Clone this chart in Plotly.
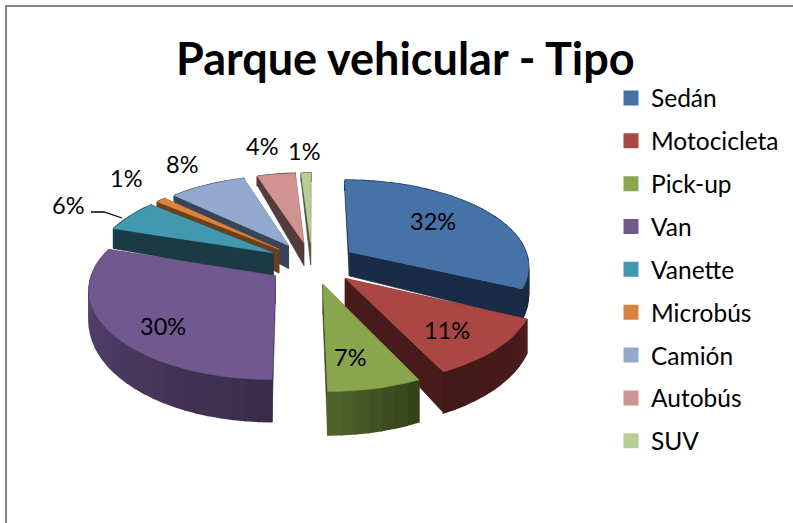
import math
import plotly.graph_objects as go

categories = ["Sedán", "Motocicleta", "Pick-up", "Van", "Vanette", "Microbús", "Camión", "Autobús", "SUV"]
values = [32, 11, 7, 30, 6, 1, 8, 4, 1]
top_colors = ["#4572A7", "#AA4643", "#89A54E", "#71588F", "#4198AF", "#DB843D", "#93A9CF", "#D19392", "#B9CD96"]
wall_colors = ["#1A2C45", "#471B1A", "#3C4A20", "#3E3050", "#1A3B46", "#6B3F1A", "#3A4459", "#553B3B", "#4E5A3A"]
arc_from = ["#1E3350", "#4A1C1B", "#4F6329", "#5C4876", "#1A3B46", "#6B3F1A", "#3A4459", "#553B3B", "#4E5A3A"]
arc_to = ["#182A42", "#431918", "#36421C", "#3A2D4C", "#1A3B46", "#6B3F1A", "#3A4459", "#553B3B", "#4E5A3A"]

label_xy = [(433, 221), (447, 330), (350, 357), (163, 326), (68, 205), (126, 178), (182, 164), (262, 146), (304, 151)]

CX, CY, A, K, P, EXPLODE, SHEAR = 312, 263, 180, 85, 1 / 7, 0.25, 3


def project(X, Y):
    w = 1 / (1 + P * Y)
    return CX + A * X * w + SHEAR * max(0, -Y), CY - K * Y * w


def depth(Y):
    return 26 - 14 * Y


def mix(c1, c2, t):
    a = [int(c1[i:i + 2], 16) for i in (1, 3, 5)]
    b = [int(c2[i:i + 2], 16) for i in (1, 3, 5)]
    return "rgb(%d,%d,%d)" % tuple(round(a[i] + (b[i] - a[i]) * t) for i in range(3))


fig = go.Figure()


def poly(pts, color, lw=0.6):
    fig.add_trace(go.Scatter(
        x=[p[0] for p in pts] + [pts[0][0]], y=[p[1] for p in pts] + [pts[0][1]],
        mode="lines", fill="toself", fillcolor=color, line=dict(color=color, width=lw),
        hoverinfo="skip", showlegend=False))


total = sum(values)
slices = []
cum = 0
for i, v in enumerate(values):
    t0 = 2 * math.pi * cum / total
    t1 = 2 * math.pi * (cum + v) / total
    cum += v
    slices.append((i, t0, t1, (t0 + t1) / 2))

for i, t0, t1, mid in sorted(slices, key=lambda s: -math.cos(s[3])):
    ox, oy = EXPLODE * math.sin(mid), EXPLODE * math.cos(mid)
    n = max(3, int((t1 - t0) / 0.06))
    ang = [t0 + (t1 - t0) * j / n for j in range(n + 1)]
    rim = [(ox + math.sin(t), oy + math.cos(t)) for t in ang]
    apex = (ox, oy)

    def top(p):
        return project(*p)

    def bot(p):
        x, y = project(*p)
        return x, y + depth(p[1])

    for edge in (rim[0], rim[-1]):
        poly([top(apex), top(edge), bot(edge), bot(apex)], wall_colors[i])
    for j in range(n):
        t = j / max(1, n - 1)
        c = mix(arc_to[i], arc_from[i], t) if i in (2, 3) else mix(arc_from[i], arc_to[i], t)
        poly([top(rim[j]), top(rim[j + 1]), bot(rim[j + 1]), bot(rim[j])], c, lw=1.5)
    poly([top(apex)] + [top(p) for p in rim], top_colors[i])

for i, name in enumerate(categories):
    fig.add_trace(go.Scatter(
        x=[None], y=[None], mode="markers", name=name, legendgroup=name,
        marker=dict(symbol="square", size=15, color=top_colors[i]), hoverinfo="skip"))

annotations = [dict(x=x, y=y, text=f"{v}%", showarrow=False, xref="x", yref="y",
                    font=dict(family="Lato", size=23.5, color="#000000"))
               for (x, y), v in zip(label_xy, values)]
annotations.append(dict(x=405, y=58, text="<b>Parque vehicular - Tipo</b>", showarrow=False, xref="x", yref="y",
                        font=dict(family="Lato", size=45, color="#000000")))

shapes = [
    dict(type="line", x0=5.5, x1=793, y0=6, y1=6, xref="x", yref="y", line=dict(color="#868686", width=2)),
    dict(type="line", x0=6, x1=6, y0=5, y1=523, xref="x", yref="y", line=dict(color="#868686", width=2)),
    dict(type="path", path="M 91 212 L 104 212 L 122 218", xref="x", yref="y", line=dict(color="#000000", width=1.3)),
]

fig.update_layout(
    width=793, height=523, margin=dict(l=0, r=0, t=0, b=0),
    paper_bgcolor="white", plot_bgcolor="white",
    xaxis=dict(range=[0, 793], visible=False, fixedrange=True),
    yaxis=dict(range=[523, 0], visible=False, fixedrange=True),
    annotations=annotations, shapes=shapes, showlegend=True,
    legend=dict(x=611 / 793, y=1 - 75.5 / 523, xanchor="left", yanchor="top", bgcolor="rgba(0,0,0,0)",
                traceorder="grouped", tracegroupgap=8, itemwidth=30, font=dict(family="Lato", size=24.5, color="#000000")),
)

fig.write_html("out.html", config={"displayModeBar": False}, post_script="document.body.style.margin='0';")
